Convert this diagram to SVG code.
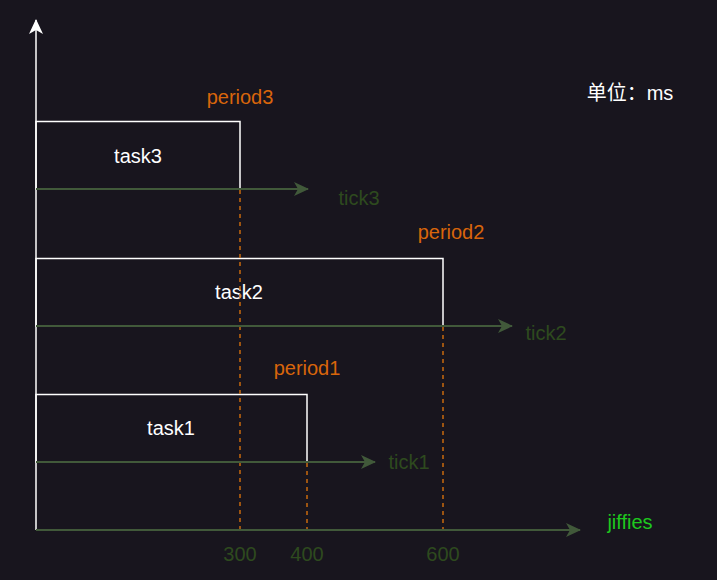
<svg xmlns="http://www.w3.org/2000/svg" width="717" height="580" viewBox="0 0 717 580">
<defs>
<style>
text{font-family:"Liberation Sans",Arial,"Noto Sans CJK SC",sans-serif;font-size:20px;text-anchor:middle}
.box{fill:none;stroke:#ffffff;stroke-width:1.5}
.g{stroke:#41593a;stroke-width:2;fill:none}
.w{stroke:#ffffff;stroke-width:1.5;fill:none}
.d{stroke:#c8690e;stroke-width:1.5;stroke-dasharray:4 4;fill:none}
.per{fill:#d9650b}
.tk{fill:#2e4a1e}
.wt{fill:#ffffff}
</style>
<marker id="ag" viewBox="0 0 15 14" refX="14" refY="7" markerWidth="15" markerHeight="14" markerUnits="userSpaceOnUse" orient="auto">
<path d="M0,0 L15,7 L0,14 L4,7 Z" fill="#41593a"/>
</marker>
<marker id="aw" viewBox="0 0 15 14" refX="14" refY="7" markerWidth="15" markerHeight="14" markerUnits="userSpaceOnUse" orient="auto">
<path d="M0,0 L15,7 L0,14 L4,7 Z" fill="#ffffff"/>
</marker>
</defs>
<rect width="717" height="580" fill="#18151e"/>
<g id="task3"><rect class="box" x="36" y="121.5" width="204" height="67.5"/><text class="wt" x="138" y="163">task3</text></g>
<g id="task2"><rect class="box" x="36" y="258.5" width="407" height="67.5"/><text class="wt" x="239" y="299">task2</text></g>
<g id="task1"><rect class="box" x="36" y="394.5" width="271" height="67.5"/><text class="wt" x="171" y="435">task1</text></g>
<g id="connectors">
<line class="d" x1="240" y1="190" x2="240" y2="530"/>
<line class="d" x1="307" y1="463" x2="307" y2="530"/>
<line class="d" x1="443" y1="327" x2="443" y2="530"/>
<line class="w" x1="36" y1="530" x2="36" y2="20" marker-end="url(#aw)"/>
<line class="g" x1="36" y1="530" x2="580" y2="530" marker-end="url(#ag)"/>
<line class="g" x1="36" y1="189" x2="308" y2="189" marker-end="url(#ag)"/>
<line class="g" x1="36" y1="326" x2="512" y2="326" marker-end="url(#ag)"/>
<line class="g" x1="36" y1="462" x2="375" y2="462" marker-end="url(#ag)"/>
</g>
<g id="labels">
<text class="per" x="240" y="104">period3</text>
<text class="per" x="451" y="239">period2</text>
<text class="per" x="307" y="375">period1</text>
<text class="tk" x="359" y="205">tick3</text>
<text class="tk" x="546" y="340">tick2</text>
<text class="tk" x="409" y="469">tick1</text>
<text class="tk" x="240" y="561">300</text>
<text class="tk" x="307" y="561">400</text>
<text class="tk" x="443" y="561">600</text>
<text x="630" y="529" fill="#1ec81e">jiffies</text>
<text class="wt" x="630" y="100">单位：ms</text>
</g>
</svg>
